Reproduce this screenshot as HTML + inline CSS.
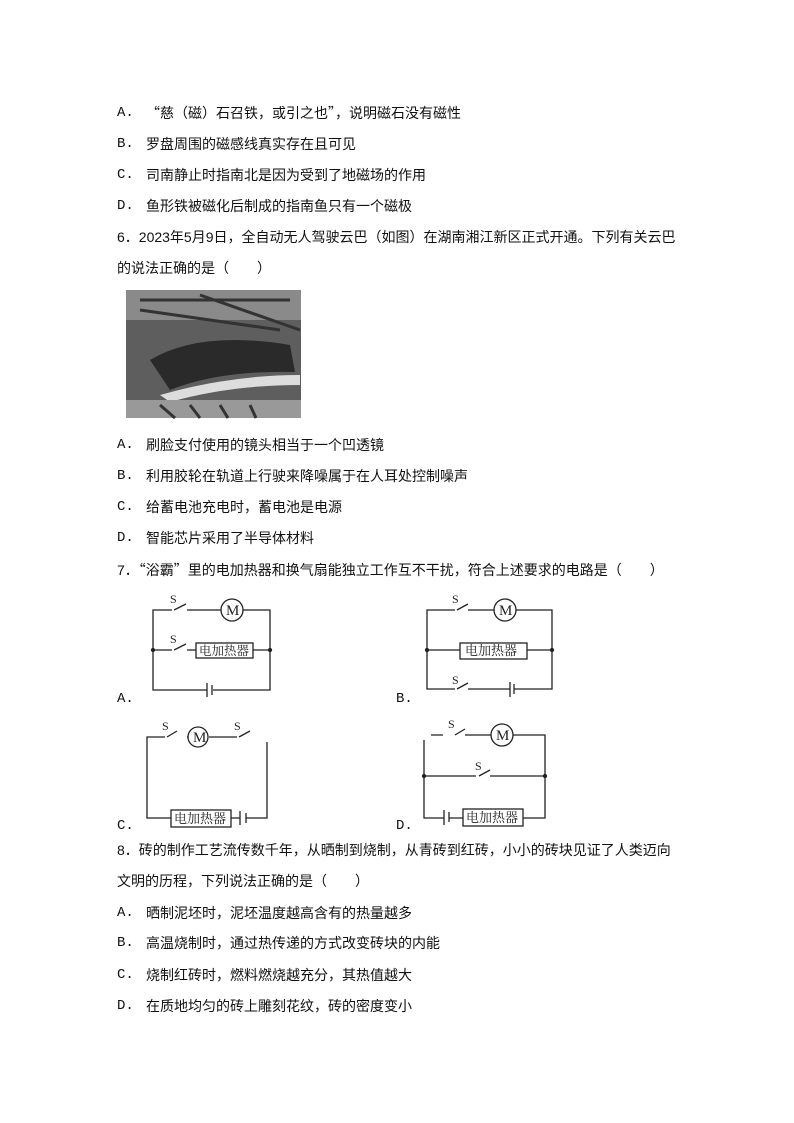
<!DOCTYPE html>
<html><head><meta charset="utf-8"><style>
body{margin:0;background:#fff;}
#p{position:relative;width:794px;height:1123px;overflow:hidden;font-family:"Liberation Sans","Noto Sans CJK SC",sans-serif;font-size:14px;color:#111;}
.l{position:absolute;left:117px;white-space:nowrap;line-height:16px;}
.t{position:absolute;left:146px;white-space:nowrap;line-height:16px;}
.m{font-family:"Liberation Mono","Noto Sans CJK SC",monospace;}
.c{font-family:"Noto Sans CJK SC",sans-serif;}
svg{position:absolute;left:0;top:0;}
</style></head><body><div id="p">
<div class="l m" style="top:105px">A.</div><div class="t" style="top:105px"><span class="c">“</span>慈（磁）石召铁，或引之也<span class="c">”</span>，说明磁石没有磁性</div>
<div class="l m" style="top:136px">B.</div><div class="t" style="top:136px">罗盘周围的磁感线真实存在且可见</div>
<div class="l m" style="top:167px">C.</div><div class="t" style="top:167px">司南静止时指南北是因为受到了地磁场的作用</div>
<div class="l m" style="top:198px">D.</div><div class="t" style="top:198px">鱼形铁被磁化后制成的指南鱼只有一个磁极</div>
<div class="l" style="top:229px">6．2023年5月9日，全自动无人驾驶云巴（如图）在湖南湘江新区正式开通。下列有关云巴</div>
<div class="l" style="top:260px">的说法正确的是（　　）</div>
<div class="l m" style="top:437px">A.</div><div class="t" style="top:437px">刷脸支付使用的镜头相当于一个凹透镜</div>
<div class="l m" style="top:468px">B.</div><div class="t" style="top:468px">利用胶轮在轨道上行驶来降噪属于在人耳处控制噪声</div>
<div class="l m" style="top:499px">C.</div><div class="t" style="top:499px">给蓄电池充电时，蓄电池是电源</div>
<div class="l m" style="top:530px">D.</div><div class="t" style="top:530px">智能芯片采用了半导体材料</div>
<div class="l" style="top:562px">7．<span class="c">“</span>浴霸<span class="c">”</span>里的电加热器和换气扇能独立工作互不干扰，符合上述要求的电路是（　　）</div>
<div class="l m" style="top:691px">A.</div><div class="l m" style="top:691px;left:396px">B.</div>
<div class="l m" style="top:818px">C.</div><div class="l m" style="top:818px;left:396px">D.</div>
<div class="l" style="top:842px">8．砖的制作工艺流传数千年，从晒制到烧制，从青砖到红砖，小小的砖块见证了人类迈向</div>
<div class="l" style="top:873px">文明的历程，下列说法正确的是（　　）</div>
<div class="l m" style="top:905px">A.</div><div class="t" style="top:905px">晒制泥坯时，泥坯温度越高含有的热量越多</div>
<div class="l m" style="top:935px">B.</div><div class="t" style="top:935px">高温烧制时，通过热传递的方式改变砖块的内能</div>
<div class="l m" style="top:967px">C.</div><div class="t" style="top:967px">烧制红砖时，燃料燃烧越充分，其热值越大</div>
<div class="l m" style="top:998px">D.</div><div class="t" style="top:998px">在质地均匀的砖上雕刻花纹，砖的密度变小</div>
<svg width="794" height="1123" stroke="#222" stroke-width="1.3" fill="none" font-family="Liberation Serif,Noto Serif CJK SC,serif">
<rect x="126" y="290" width="175" height="128" fill="#5e5e5e" stroke="none"/>
<rect x="126" y="290" width="175" height="30" fill="#8a8a8a" stroke="none"/>
<path d="M140 300L290 300M140 310L280 330M200 295L300 330" stroke="#333" stroke-width="3"/>
<path d="M150 360 Q200 330 290 345 L295 372 Q220 370 170 390 Z" fill="#2a2a2a" stroke="none"/>
<path d="M160 395 Q230 375 300 375 L300 385 Q230 385 170 402 Z" fill="#ddd" stroke="none"/>
<rect x="126" y="400" width="175" height="18" fill="#999" stroke="none"/>
<path d="M160 405L175 418M190 405L200 418M220 405L228 418M250 405L256 418" stroke="#333" stroke-width="3"/>
<!-- A -->
<path d="M172 610H153V690H207M213 690H270V610H243M221 610H187"/>
<path d="M172 650H153M270 650H253M196 650H187"/>
<line x1="174" y1="610" x2="186" y2="604"/><line x1="174" y1="650" x2="186" y2="644"/>
<circle cx="232" cy="610" r="11"/><rect x="196" y="643" width="57" height="15"/>
<line x1="207" y1="683" x2="207" y2="697"/><line x1="212" y1="685" x2="212" y2="695"/>
<circle cx="153" cy="650" r="1.5" fill="#222"/><circle cx="270" cy="650" r="1.5" fill="#222"/>
<text x="170" y="603" font-size="12" fill="#222" stroke="none">S</text><text x="170" y="643" font-size="12" fill="#222" stroke="none">S</text>
<text x="199" y="655" font-size="12.5" fill="#222" stroke="none">电加热器</text>
<!-- B -->
<path d="M455 610H427V689H455M468 689H510M514 689H552V610H516M494 610H468"/>
<path d="M427 650H460M527 650H552"/>
<line x1="457" y1="610" x2="468" y2="604"/><line x1="457" y1="689" x2="468" y2="683"/>
<circle cx="505" cy="610" r="11"/><rect x="460" y="643" width="67" height="16"/>
<line x1="510" y1="682" x2="510" y2="697"/><line x1="514" y1="684" x2="514" y2="694"/>
<circle cx="427" cy="650" r="1.5" fill="#222"/><circle cx="552" cy="650" r="1.5" fill="#222"/>
<text x="452" y="603" font-size="12" fill="#222" stroke="none">S</text><text x="452" y="684" font-size="12" fill="#222" stroke="none">S</text>
<text x="465" y="655" font-size="13" fill="#222" stroke="none">电加热器</text>
<!-- C -->
<path d="M165 737H147V818H171M231 818H240M246 818H267V742M187 737H198M209 737H237"/>
<line x1="167" y1="737" x2="177" y2="731"/><line x1="239" y1="737" x2="250" y2="731"/>
<circle cx="198" cy="737" r="10" fill="#fff"/><rect x="171" y="810" width="60" height="17"/>
<line x1="240" y1="811" x2="240" y2="825"/><line x1="246" y1="813" x2="246" y2="823"/>
<text x="162" y="730" font-size="12" fill="#222" stroke="none">S</text><text x="234" y="730" font-size="12" fill="#222" stroke="none">S</text>
<text x="174" y="823" font-size="13" fill="#222" stroke="none">电加热器</text>
<!-- D -->
<path d="M443 735H431M465 735H491M513 735H545V818H523M463 818H449M444 818H424V740"/>
<path d="M424 776H476M490 776H545"/>
<line x1="455" y1="735" x2="465" y2="729"/><line x1="479" y1="776" x2="490" y2="770"/>
<circle cx="502" cy="735" r="11"/><rect x="463" y="809" width="60" height="17"/>
<line x1="444" y1="810" x2="444" y2="825"/><line x1="449" y1="812" x2="449" y2="822"/>
<circle cx="424" cy="776" r="1.5" fill="#222"/><circle cx="545" cy="776" r="1.5" fill="#222"/>
<text x="448" y="728" font-size="12" fill="#222" stroke="none">S</text><text x="475" y="770" font-size="12" fill="#222" stroke="none">S</text>
<text x="466" y="822" font-size="13" fill="#222" stroke="none">电加热器</text>
<g font-size="15" fill="#222" stroke="none" font-family="Liberation Serif,serif">
<text x="226" y="615">M</text><text x="499" y="615">M</text><text x="193" y="742">M</text><text x="496" y="740">M</text>
</g>
</svg>
</div></body></html>
